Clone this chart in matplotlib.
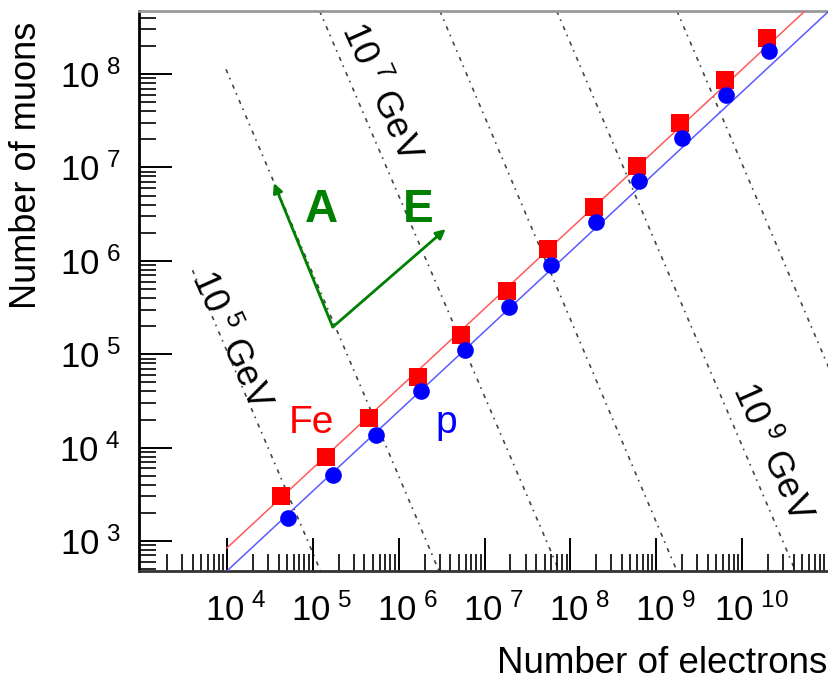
import numpy as np
import matplotlib
matplotlib.use("Agg")
import matplotlib.pyplot as plt
from matplotlib.ticker import LogLocator, NullFormatter
from matplotlib.transforms import ScaledTranslation

plt.rcParams["font.family"] = ["Liberation Sans", "DejaVu Sans"]
plt.rcParams["mathtext.fontset"] = "custom"
plt.rcParams["mathtext.rm"] = "Liberation Sans"

# log10 values
FE_LOG_NE = [4.63, 5.15, 5.66, 6.22, 6.73, 7.26, 7.74, 8.27, 8.78, 9.28, 9.80, 10.29]
FE_LOG_NMU = [3.48, 3.90, 4.32, 4.76, 5.21, 5.68, 6.13, 6.58, 7.02, 7.48, 7.94, 8.39]
P_LOG_NE = [4.71, 5.23, 5.74, 6.26, 6.77, 7.28, 7.77, 8.30, 8.80, 9.30, 9.81, 10.31]
P_LOG_NMU = [3.25, 3.71, 4.14, 4.61, 5.05, 5.51, 5.96, 6.42, 6.85, 7.32, 7.78, 8.25]

# fitted lines through the points (end points)
FE_LINE_LOG_NE = [4.0, 10.73]
FE_LINE_LOG_NMU = [2.925, 8.675]
P_LINE_LOG_NE = [4.0, 11.01]
P_LINE_LOG_NMU = [2.679, 8.675]

# lines of constant primary energy (start / end points)
ENERGY_LOG_NE_START = [3.60, 3.99, 5.08, 6.48, 7.84, 9.24]
ENERGY_LOG_NMU_START = [5.90, 8.05, 8.675, 8.675, 8.675, 8.675]
ENERGY_LOG_NE_END = [5.09, 6.47, 7.87, 9.24, 10.62, 11.01]
ENERGY_LOG_NMU_END = [2.679, 2.679, 2.679, 2.679, 2.679, 4.85]

ENERGY_LABELS = ["5", "7", "9"]
ENERGY_LABEL_LOG_NE = [4.035, 5.79, 10.34]
ENERGY_LABEL_LOG_NMU = [5.15, 7.80, 3.95]

X_TICK_EXP = [4, 5, 6, 7, 8, 9, 10]
Y_TICK_EXP = [3, 4, 5, 6, 7, 8]

X_LIM = (10 ** 2.977, 10 ** 11.01)
Y_LIM = (10 ** 2.679, 10 ** 8.675)


def pow10(values):
	return 10 ** np.asarray(values, dtype=float)


def tick_label(exp):
	return rf"$\mathregular{{10^{{\ {exp}}}}}$"


fig = plt.figure(figsize=(8.29, 6.82), dpi=100)
ax = fig.add_axes([139 / 829, 1 - 571 / 682, 690 / 829, 560 / 682])
ax.set_xscale("log")
ax.set_yscale("log")
ax.set_xlim(*X_LIM)
ax.set_ylim(*Y_LIM)

# constant energy lines
for xs, ys, xe, ye in zip(ENERGY_LOG_NE_START, ENERGY_LOG_NMU_START, ENERGY_LOG_NE_END, ENERGY_LOG_NMU_END):
	ax.plot(pow10([xs, xe]), pow10([ys, ye]), color="#444444", lw=1.2,
		linestyle=(0, (2.5, 3, 1, 3.5)), zorder=1)

for exp, lx, ly in zip(ENERGY_LABELS, ENERGY_LABEL_LOG_NE, ENERGY_LABEL_LOG_NMU):
	ax.text(10 ** lx, 10 ** ly, rf"$\mathregular{{10^{{\ {exp}}}}}$ GeV", fontsize=26,
		rotation=-66, rotation_mode="anchor", ha="center", va="center", zorder=2)

# fit lines
ax.plot(pow10(FE_LINE_LOG_NE), pow10(FE_LINE_LOG_NMU), color="#ff5a5a", lw=1.1, zorder=3)
ax.plot(pow10(P_LINE_LOG_NE), pow10(P_LINE_LOG_NMU), color="#5a5aff", lw=1.1, zorder=3)

# points
ax.plot(pow10(FE_LOG_NE), pow10(FE_LOG_NMU), "s", color="#ff0000", ms=12.5, mew=0, zorder=4)
ax.plot(pow10(P_LOG_NE), pow10(P_LOG_NMU), "o", color="#0000ff", ms=12, mew=0, zorder=5)

ax.text(10 ** 4.72, 10 ** 4.156, "Fe", color="#ff0000", fontsize=28, ha="left", va="baseline")
ax.text(10 ** 6.55, 10 ** 4.156, "p", color="#0000ff", fontsize=28, ha="center", va="baseline")

# A / E axes arrows
origin = (10 ** 5.233, 10 ** 5.291)
arrow_style = dict(arrowstyle="-|>", color="#008000", lw=2, mutation_scale=14, shrinkA=0, shrinkB=0)
ax.annotate("", xy=(10 ** 4.547, 10 ** 6.833), xytext=origin, arrowprops=arrow_style, zorder=6)
ax.annotate("", xy=(10 ** 6.547, 10 ** 6.340), xytext=origin, arrowprops=arrow_style, zorder=6)
ax.text(10 ** 5.105, 10 ** 6.544, "A", color="#008000", fontsize=33, fontweight="bold",
	ha="center", va="center")
ax.text(10 ** 6.233, 10 ** 6.544, "E", color="#008000", fontsize=33, fontweight="bold",
	ha="center", va="center")

# ticks
ax.set_xticks(pow10(X_TICK_EXP), [tick_label(e) for e in X_TICK_EXP])
ax.set_yticks(pow10(Y_TICK_EXP), [tick_label(e) for e in Y_TICK_EXP])
for axis in (ax.xaxis, ax.yaxis):
	axis.set_minor_locator(LogLocator(base=10, subs=np.arange(2, 10), numticks=100))
	axis.set_minor_formatter(NullFormatter())

ax.tick_params(which="major", direction="in", length=24, width=1.4, labelsize=25, color="black")
ax.tick_params(which="minor", direction="in", length=12, width=1.2, color="black")
ax.tick_params(axis="x", which="both", top=False, pad=16)
ax.tick_params(axis="y", which="both", right=False, pad=13)

shift = ScaledTranslation(9 / 100, 0, fig.dpi_scale_trans)
for label in ax.get_xticklabels():
	label.set_transform(label.get_transform() + shift)

ax.spines["right"].set_visible(False)
ax.spines["top"].set_color("#999999")
ax.spines["top"].set_linewidth(2)
ax.spines["left"].set_linewidth(2)
ax.spines["bottom"].set_linewidth(2)
ax.spines["bottom"].set_color("#333333")

ax.set_xlabel("Number of electrons", fontsize=26.5, loc="right")
ax.xaxis.set_label_coords(0.997, -0.134)
ax.set_ylabel("Number of muons", fontsize=26, loc="top")
ax.yaxis.set_label_coords(-0.138, 0.98)

fig.savefig("out.png", dpi=100)
plt.close(fig)
